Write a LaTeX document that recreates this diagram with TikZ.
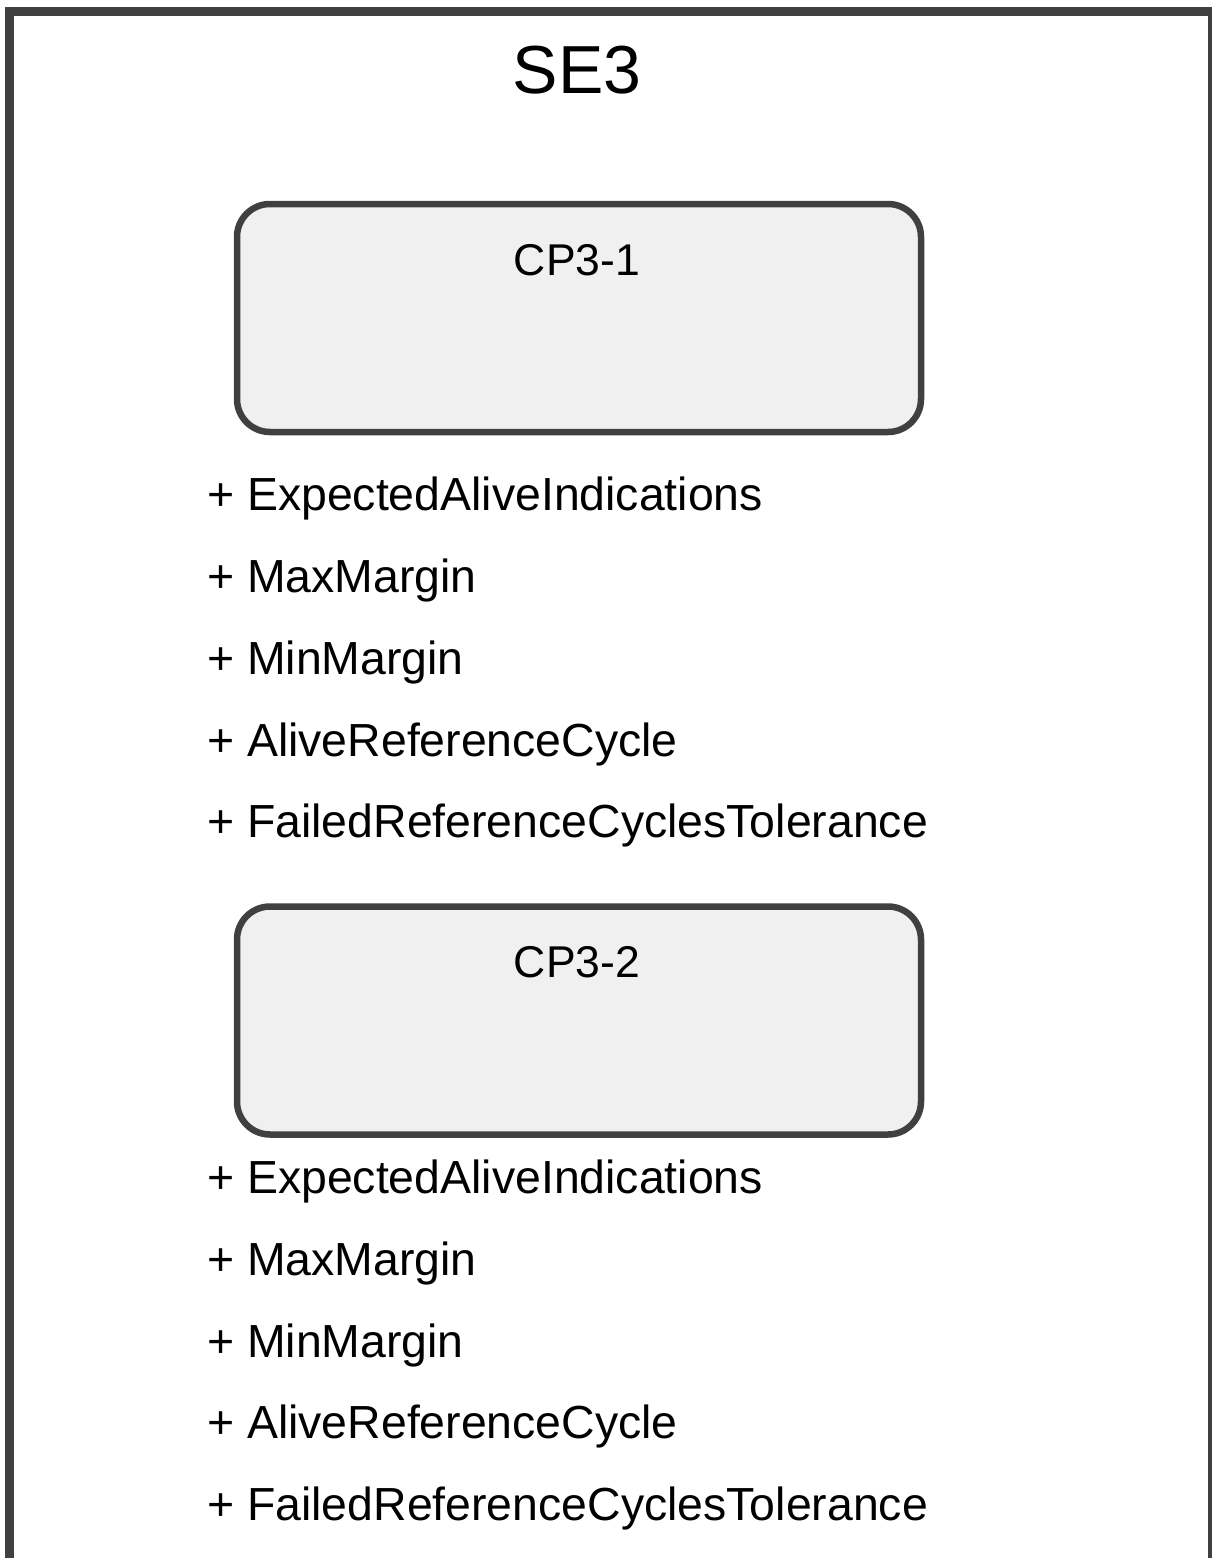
\documentclass[tikz,border=0pt]{standalone}
\usepackage{fontspec}
\setmainfont{Liberation Sans}
\definecolor{framegray}{HTML}{404040}
\definecolor{boxfill}{HTML}{F0F0F0}
\begin{document}
\begin{tikzpicture}[x=1pt,y=-1pt,
  frame/.style={draw=framegray,line width=9pt},
  partbox/.style={draw=framegray,fill=boxfill,line width=6.5pt,rounded corners=33pt,
    minimum width=684pt,minimum height=228pt,inner sep=0pt},
  title/.style={font=\fontsize{68}{80}\selectfont,anchor=base,inner sep=0pt},
  boxlabel/.style={font=\fontsize{44.5}{52}\selectfont,anchor=base,inner sep=0pt},
  attr/.style={font=\fontsize{46.4}{55}\selectfont,anchor=base west,inner sep=0pt}]
\useasboundingbox (0,0) rectangle (1211,1558);
% outer package frame (right and bottom edges run past the page)
\draw[frame] (9.5,11.5) rectangle (1212,1600);
\node[title] (se3) at (577,93) {SE3};

% first component with its attributes
\node[partbox] (cp1) at (579,318) {};
\node[boxlabel] (cp1label) at (577,275) {CP3-1};
\node[attr] (a11) at (207,510) {+ ExpectedAliveIndications};
\node[attr] (a12) at (207,592) {+ MaxMargin};
\node[attr] (a13) at (207,674) {+ MinMargin};
\node[attr] (a14) at (207,756) {+ AliveReferenceCycle};
\node[attr] (a15) at (207,837) {+ FailedReferenceCyclesTolerance};

% second component with its attributes
\node[partbox] (cp2) at (579,1020.5) {};
\node[boxlabel] (cp2label) at (577,977) {CP3-2};
\node[attr] (a21) at (207,1193) {+ ExpectedAliveIndications};
\node[attr] (a22) at (207,1275) {+ MaxMargin};
\node[attr] (a23) at (207,1357) {+ MinMargin};
\node[attr] (a24) at (207,1438) {+ AliveReferenceCycle};
\node[attr] (a25) at (207,1520) {+ FailedReferenceCyclesTolerance};
\end{tikzpicture}
\end{document}
